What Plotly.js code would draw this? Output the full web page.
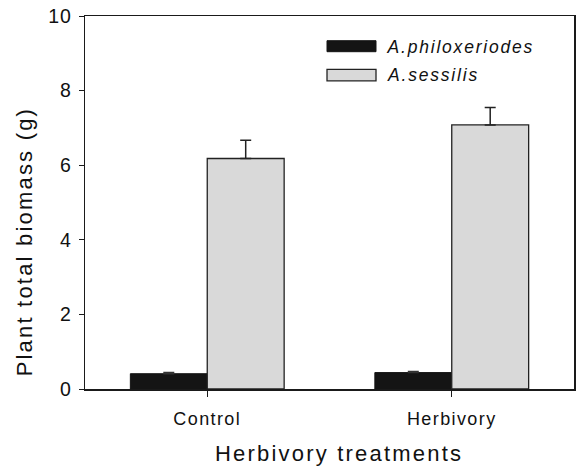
<!DOCTYPE html>
<html>
<head>
<meta charset="utf-8">
<script src="https://cdn.plot.ly/plotly-3.0.1.min.js"></script>
<style>
  html, body { margin: 0; padding: 0; background: #fff; }
  #chart { width: 577px; height: 466px; }
  .xtick text { letter-spacing: 1.4px; }
  .ytick text { letter-spacing: 0.8px; }
  g.annotation text { letter-spacing: 1.8px; }
  g.annotation[data-index="0"] text, g.annotation[data-index="1"] text { letter-spacing: 2.2px; }
</style>
</head>
<body>
<div id="chart"></div>
<script>
// ---- data ----
const categories = ["Control", "Herbivory"];
const seriesNames = ["A.philoxeriodes", "A.sessilis"];
const philoxValues = [0.41, 0.44];
const philoxErrors = [0.03, 0.03];
const sessilisValues = [6.18, 7.08];
const sessilisErrors = [0.49, 0.47];
const yTickValues = [0, 2, 4, 6, 8, 10];
const xTitle = "Herbivory treatments";
const yTitle = "Plant total biomass (g)";

const FONT = "Liberation Sans, Arial, sans-serif";
const INK = "#111";

const traces = [
  {
    type: "bar", name: seriesNames[0], x: categories, y: philoxValues,
    marker: { color: "#141414", line: { color: "#141414", width: 1 } },
    error_y: { type: "data", symmetric: false, array: philoxErrors, arrayminus: [0, 0],
               color: "#333", thickness: 1.5, width: 5.5 },
    showlegend: false
  },
  {
    type: "bar", name: seriesNames[1], x: categories, y: sessilisValues,
    marker: { color: "#d9d9d9", line: { color: "#222", width: 1.3 } },
    error_y: { type: "data", symmetric: false, array: sessilisErrors, arrayminus: [0, 0],
               color: "#222", thickness: 1.5, width: 5.5 },
    showlegend: false
  }
];

const layout = {
  width: 577, height: 466,
  margin: { l: 85, r: 3, t: 16, b: 77 },
  paper_bgcolor: "#fff", plot_bgcolor: "#fff",
  barmode: "group", bargap: 0.371, bargroupgap: 0,
  font: { family: FONT, color: INK, size: 17 },
  xaxis: {
    range: [-0.5, 1.5], showgrid: false, zeroline: false,
    showline: true, mirror: true, linecolor: "#1a1a1a", linewidth: 1.5,
    ticks: "outside", ticklen: 6, tickwidth: 1, tickcolor: "#1a1a1a",
    tickfont: { family: FONT, size: 18, color: INK },
    ticklabelstandoff: 7
  },
  yaxis: {
    range: [0, 10], tickvals: yTickValues, showgrid: false, zeroline: false,
    showline: true, mirror: true, linecolor: "#1a1a1a", linewidth: 1.5,
    ticks: "outside", ticklen: 5, tickwidth: 1, tickcolor: "#1a1a1a",
    tickfont: { family: FONT, size: 19.5, color: INK },
    ticklabelstandoff: 3
  },
  shapes: [
    { type: "rect", xref: "paper", yref: "paper", x0: 0.4949, x1: 0.5951, y0: 0.9043, y1: 0.9338,
      fillcolor: "#141414", line: { color: "#141414", width: 1 } },
    { type: "rect", xref: "paper", yref: "paper", x0: 0.4949, x1: 0.5951, y0: 0.8263, y1: 0.8571,
      fillcolor: "#d9d9d9", line: { color: "#222", width: 1.3 } }
  ],
  annotations: [
    { text: xTitle, xref: "paper", yref: "paper", x: 0.519, y: -0.1716,
      xanchor: "center", yanchor: "middle", showarrow: false,
      font: { family: FONT, size: 22, color: INK } },
    { text: yTitle, xref: "paper", yref: "paper", x: -0.1247, y: 0.394, textangle: -90,
      xanchor: "center", yanchor: "middle", showarrow: false,
      font: { family: FONT, size: 22, color: INK } },
    { text: "<i>" + seriesNames[0] + "</i>", xref: "paper", yref: "paper", x: 0.641, y: 0.917,
      xanchor: "left", yanchor: "middle", showarrow: false,
      font: { family: FONT, size: 17.5, color: INK } },
    { text: "<i>" + seriesNames[1] + "</i>", xref: "paper", yref: "paper", x: 0.631, y: 0.842,
      xanchor: "left", yanchor: "middle", showarrow: false,
      font: { family: FONT, size: 17.5, color: INK } }
  ]
};

Plotly.newPlot("chart", traces, layout, { displayModeBar: false, staticPlot: true });
</script>
</body>
</html>
